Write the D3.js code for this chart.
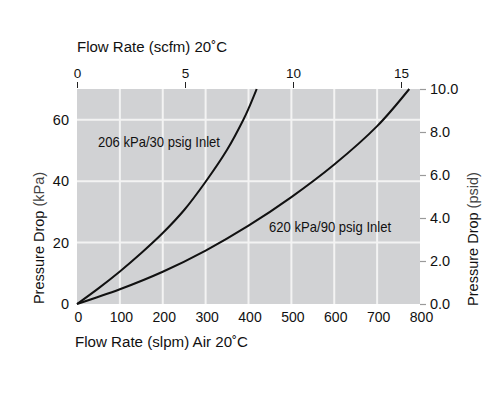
<!DOCTYPE html>
<html><head><meta charset="utf-8">
<script src="https://cdn.jsdelivr.net/npm/d3@7"></script>
<style>
body{margin:0;background:#fff;}
text{font-family:"Liberation Sans",Arial,Helvetica,sans-serif;fill:#111;}
</style></head>
<body><svg id="c" width="500" height="398"></svg>
<script>
// Data (slpm vs kPa)
const flow206 = [0, 50, 100, 150, 200, 250, 300, 350, 388, 400, 419];
const drop206 = [0, 5.1, 10.6, 16.6, 23.1, 30.6, 39.8, 50.2, 60, 63.6, 70];
const flow620 = [0, 100, 200, 300, 400, 500, 600, 700, 775];
const drop620 = [0, 4.8, 10.5, 17.4, 25.5, 34.8, 45.4, 57.9, 70];
const slpmTicks = [0, 100, 200, 300, 400, 500, 600, 700, 800];
const scfmTicks = [0, 5, 10, 15];
const kpaTicks = [0, 20, 40, 60];
const psidTicks = [0, 2, 4, 6, 8, 10];
const seriesLabels = ["206 kPa/30 psig Inlet", "620 kPa/90 psig Inlet"];

const svg = d3.select("#c");
const L = 77, R = 420, T = 89, B = 304;
const x = d3.scaleLinear().domain([0, 800]).range([L, R]);
const xTop = d3.scaleLinear().domain([0, 15]).range([L, 401]);
const y = d3.scaleLinear().domain([0, 70]).range([B, T]);
const yR = d3.scaleLinear().domain([0, 10]).range([B, T]);

svg.append("rect").attr("x", L).attr("y", T).attr("width", R - L).attr("height", B - T).attr("fill", "#d1d2d4");

// gridlines
const g = svg.append("g").attr("stroke", "#f3f3f3").attr("stroke-width", 2);
slpmTicks.filter(d => d > 0 && d < 800).forEach(d => {
  g.append("line").attr("x1", x(d)).attr("x2", x(d)).attr("y1", T).attr("y2", B);
});
kpaTicks.filter(d => d > 0).forEach(d => {
  g.append("line").attr("x1", L).attr("x2", R).attr("y1", y(d)).attr("y2", y(d));
});

// bottom axis labels
const axB = d3.axisBottom(x).tickValues(slpmTicks).tickSize(0).tickPadding(8);
const gb = svg.append("g").attr("transform", `translate(0,${B})`).call(axB);
gb.select(".domain").remove();
gb.selectAll("text").style("font-size", "14px").attr("fill", "#222").attr("dx", "1");

// top axis
const axT = d3.axisTop(xTop).tickValues(scfmTicks).tickSize(6).tickPadding(4);
const gt = svg.append("g").attr("transform", `translate(0,${T - 1})`).call(axT);
gt.select(".domain").remove();
gt.selectAll("line").attr("stroke", "#222");
gt.selectAll("text").style("font-size", "13.5px").attr("fill", "#222");

// left axis
const axL = d3.axisLeft(y).tickValues(kpaTicks).tickSize(0).tickPadding(8);
const gl = svg.append("g").attr("transform", `translate(${L},0)`).call(axL);
gl.select(".domain").remove();
gl.selectAll("text").style("font-size", "14.5px").attr("fill", "#222");

// right axis
const axR = d3.axisRight(yR).tickValues(psidTicks).tickSize(6).tickPadding(4).tickFormat(d3.format(".1f"));
const gr = svg.append("g").attr("transform", `translate(${R},0)`).call(axR);
gr.select(".domain").remove();
gr.selectAll("line").attr("stroke", "#9a9a9a").attr("stroke-width", 1.2);
gr.selectAll("text").style("font-size", "14.5px").attr("fill", "#222");

// curves
const line = d3.line().x(d => x(d[0])).y(d => y(d[1])).curve(d3.curveCatmullRom.alpha(0.5));
[[flow206, drop206], [flow620, drop620]].forEach(([fx, fy]) => {
  svg.append("path").datum(fx.map((v, i) => [v, fy[i]]))
    .attr("d", line).attr("fill", "none").attr("stroke", "#111").attr("stroke-width", 2);
});

// series labels
svg.append("text").attr("x", x(49)).attr("y", y(51.2)).style("font-size", "14.5px")
  .attr("textLength", 122).attr("lengthAdjust", "spacingAndGlyphs").text(seriesLabels[0]);
svg.append("text").attr("x", x(448)).attr("y", y(23.5)).style("font-size", "14.5px")
  .attr("textLength", 122).attr("lengthAdjust", "spacingAndGlyphs").text(seriesLabels[1]);

// titles
svg.append("text").attr("x", 77).attr("y", 52).style("font-size", "15.5px")
  .attr("textLength", 150).attr("lengthAdjust", "spacingAndGlyphs").text("Flow Rate (scfm) 20˚C");
svg.append("text").attr("x", 75).attr("y", 347).style("font-size", "15.5px")
  .attr("textLength", 173).attr("lengthAdjust", "spacingAndGlyphs").text("Flow Rate (slpm) Air 20˚C");

const lt = svg.append("text").attr("transform", "translate(44,238) rotate(-90)").attr("text-anchor", "middle").style("font-size", "14.5px");
lt.append("tspan").text("Pressure Drop ");
lt.append("tspan").attr("fill", "#444").text("(kPa)");
const rt = svg.append("text").attr("transform", "translate(478,239) rotate(-90)").attr("text-anchor", "middle").style("font-size", "14.5px");
rt.append("tspan").text("Pressure Drop ");
rt.append("tspan").attr("fill", "#444").text("(psid)");
</script></body></html>
